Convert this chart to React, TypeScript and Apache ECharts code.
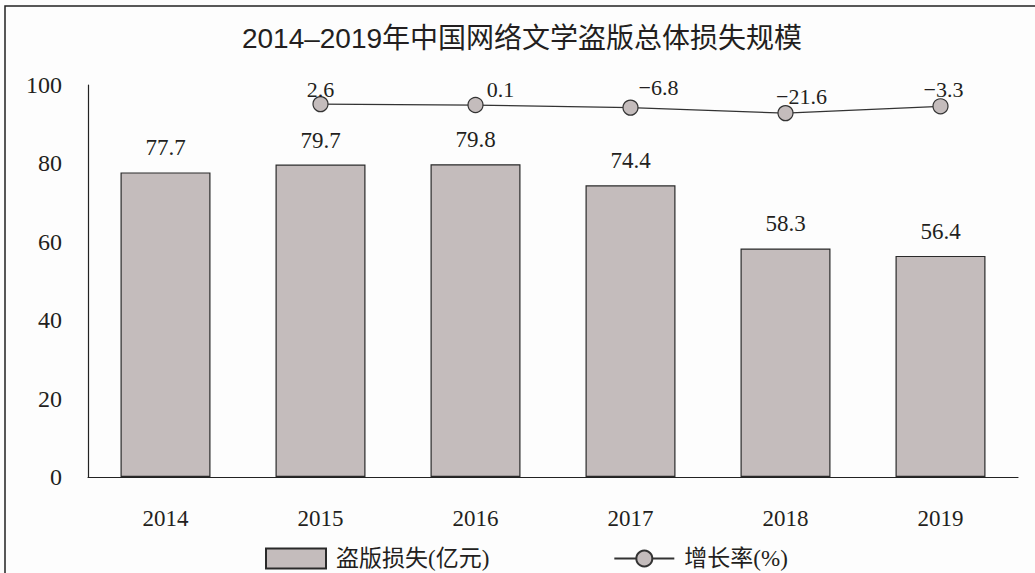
import React, { useEffect, useRef } from "react";
import * as echarts from "echarts";

const years = ["2014", "2015", "2016", "2017", "2018", "2019"];
const lossValues = [77.7, 79.7, 79.8, 74.4, 58.3, 56.4];
const growthValues: (number | null)[] = [null, 2.6, 0.1, -6.8, -21.6, -3.3];
const growthLabelOffsets: number[][] = [[0, 0], [0, 4], [25, 4], [28, -1], [16, 2], [3, 2]];
const yTicks = { min: 0, max: 100, interval: 20 };
const titleText = "2014–2019年中国网络文学盗版总体损失规模";
const barName = "盗版损失(亿元)";
const lineName = "增长率(%)";

const SERIF = '"Liberation Serif", "Times New Roman", "Noto Sans CJK SC", serif';
const TEXT = "#231f20";

export default function App() {
  const ref = useRef<HTMLDivElement>(null);
  useEffect(() => {
    document.body.style.margin = "0";
    const chart = echarts.init(ref.current!, undefined, { renderer: "svg" });
    const fmt = (v: number) => (v < 0 ? "−" + Math.abs(v) : String(v));
    chart.setOption({
      animation: false,
      backgroundColor: "#fdfdfd",
      title: {
        text: titleText,
        left: 522,
        top: 24,
        textAlign: "center",
        padding: 0,
        textStyle: {
          fontFamily: '"Liberation Sans", "Noto Sans CJK SC", sans-serif',
          fontSize: 28,
          fontWeight: "normal",
          color: TEXT,
        },
      },
      legend: {
        left: 260,
        top: 542,
        itemGap: 124,
        itemWidth: 60,
        itemHeight: 20,
        textStyle: { fontFamily: SERIF, fontSize: 23, color: TEXT, padding: [0, 0, 0, 5] },
        data: [
          { name: barName, icon: "rect" },
          { name: lineName },
        ],
      },
      grid: { left: 88, right: 17, top: 85, bottom: 96, containLabel: false },
      xAxis: {
        type: "category",
        data: years,
        axisLine: { lineStyle: { color: "#222", width: 1.2 } },
        axisTick: { show: false },
        axisLabel: { fontFamily: SERIF, fontSize: 23, color: TEXT, margin: 30 },
      },
      yAxis: [
        {
          type: "value",
          min: yTicks.min,
          max: yTicks.max,
          interval: yTicks.interval,
          axisLine: { show: true, lineStyle: { color: "#222", width: 1.2 } },
          axisTick: { show: false },
          splitLine: { show: false },
          axisLabel: { fontFamily: SERIF, fontSize: 24, color: TEXT, margin: 26 },
        },
        { type: "value", show: false, min: -1000, max: 54, splitLine: { show: false } },
      ],
      series: [
        {
          name: barName,
          type: "bar",
          data: lossValues,
          barWidth: 90,
          itemStyle: { color: "#c4bcbc", borderColor: "#2a2a2a", borderWidth: 1.2 },
          label: {
            show: true,
            position: "top",
            distance: 13,
            fontFamily: SERIF,
            fontSize: 23,
            color: TEXT,
          },
        },
        {
          name: lineName,
          type: "line",
          yAxisIndex: 1,
          data: growthValues.map((v, i) =>
            v === null
              ? null
              : { value: v, label: { offset: growthLabelOffsets[i] } }
          ),
          symbol: "circle",
          symbolSize: 15,
          lineStyle: { color: "#333", width: 1.3 },
          itemStyle: { color: "#c4bcbc", borderColor: "#333", borderWidth: 1.2 },
          label: {
            show: true,
            position: "top",
            distance: 0,
            fontFamily: SERIF,
            fontSize: 22,
            color: TEXT,
            formatter: (p: any) => fmt(p.value),
          },
        },
      ],
      graphic: [
        {
          type: "polyline",
          shape: { points: [[5, 573], [5, 6], [1035, 6]] },
          style: { stroke: "#222", lineWidth: 1.5, fill: null },
          silent: true,
        },
      ],
    });
    return () => chart.dispose();
  }, []);
  return (
    <div
      ref={ref}
      style={{ position: "fixed", left: 0, top: 0, width: 1035, height: 573 }}
    />
  );
}
